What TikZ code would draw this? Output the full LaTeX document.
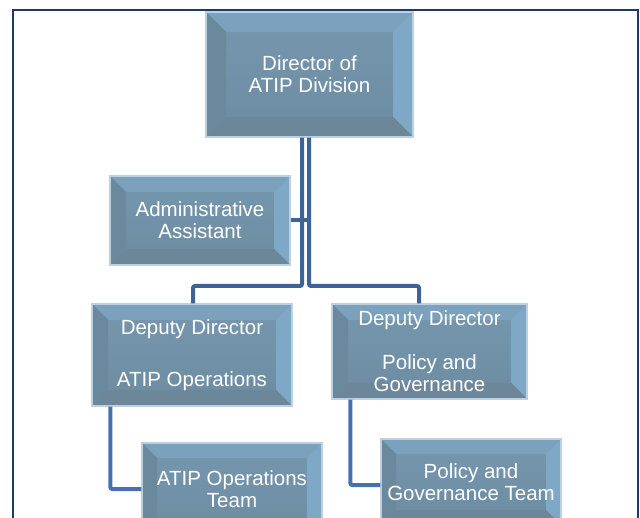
\documentclass[tikz,border=0pt]{standalone}
\usepackage{fontspec}
\setmainfont{Liberation Sans}
\usetikzlibrary{calc}
\definecolor{framec}{HTML}{1F3864}
\definecolor{connc}{HTML}{3C6494}
\definecolor{conncb}{HTML}{4670B0}
\definecolor{boxedge}{HTML}{BCD0E2}
\definecolor{facetop}{HTML}{7597AE}
\definecolor{facebot}{HTML}{6D8CA2}
\definecolor{bevtopc}{HTML}{7BA1BC}
\definecolor{bevrightc}{HTML}{7EA8C6}
\definecolor{bevleftc}{HTML}{6B899D}
\definecolor{bevbotc}{HTML}{6C879A}
\tikzset{
  bev/.store in=\bevw, bev=15,
  orgbox/.style={draw=boxedge, line width=1.4pt, top color=facetop, bottom color=facebot,
    text=white, align=center, inner sep=0pt, font=\fontsize{20.5}{22}\selectfont,
    path picture={
      \path (path picture bounding box.north west) coordinate (pnw)
            (path picture bounding box.north east) coordinate (pne)
            (path picture bounding box.south west) coordinate (psw)
            (path picture bounding box.south east) coordinate (pse);
      \fill[bevtopc] (pnw) -- (pne) -- ([shift={(-\bevw pt,-\bevw pt)}]pne) -- ([shift={(\bevw pt,-\bevw pt)}]pnw) -- cycle;
      \fill[bevrightc] (pne) -- (pse) -- ([shift={(-\bevw pt,\bevw pt)}]pse) -- ([shift={(-\bevw pt,-\bevw pt)}]pne) -- cycle;
      \fill[bevbotc] (pse) -- (psw) -- ([shift={(\bevw pt,\bevw pt)}]psw) -- ([shift={(-\bevw pt,\bevw pt)}]pse) -- cycle;
      \fill[bevleftc] (psw) -- (pnw) -- ([shift={(\bevw pt,-\bevw pt)}]pnw) -- ([shift={(\bevw pt,\bevw pt)}]psw) -- cycle;
    }},
  conn/.style={draw=connc, line width=4pt, rounded corners=2pt},
  connb/.style={draw=conncb, line width=4pt, rounded corners=2pt},
  framel/.style={draw=framec, line width=2.4pt}
}
\begin{document}
\begin{tikzpicture}[x=1pt,y=-1pt]
\useasboundingbox (0,0) rectangle (640,518);
\clip (0,0) rectangle (640,518);
% outer frame
\draw[framel] (13,540) -- (13,10) -- (638,10) -- (638,540);
% junction points of the double trunk
\coordinate (jl) at (302,286);
\coordinate (jr) at (309,286);
% boxes
\node[orgbox, bev=20, minimum width=207pt, minimum height=125pt] (dir) at (309.5,74.5) {Director of\\ATIP Division};
\node[orgbox, bev=16, minimum width=180pt, minimum height=89pt] (admin) at (200,220.5) {Administrative\\Assistant};
\node[orgbox, bev=16, minimum width=200pt, minimum height=102pt] (depL) at (192,355) {Deputy Director\\[30pt]ATIP Operations};
\node[orgbox, bev=16, minimum width=195pt, minimum height=95pt] (depR) at (429.5,351.5) {Deputy Director\\[22pt]Policy and\\Governance};
\node[orgbox, bev=15, minimum width=180pt, minimum height=92pt] (teamL) at (232,489) {ATIP Operations\\Team};
\node[orgbox, bev=15, minimum width=180pt, minimum height=86pt] (teamR) at (471,482) {Policy and\\Governance Team};
% connectors
\draw[conn] (dir.south -| jl) -- (jl) -| ([xshift=1pt]depL.north);
\draw[conn] (dir.south -| jr) -- (jr) -| ([xshift=-10.5pt]depR.north);
\draw[conn] (admin.east) -- (admin.east -| jr);
\draw[connb] ([xshift=19pt]depL.south west) |- (teamL.west);
\draw[connb] ([xshift=19pt]depR.south west) |- ([yshift=-3pt]teamR.west);
\end{tikzpicture}
\end{document}
